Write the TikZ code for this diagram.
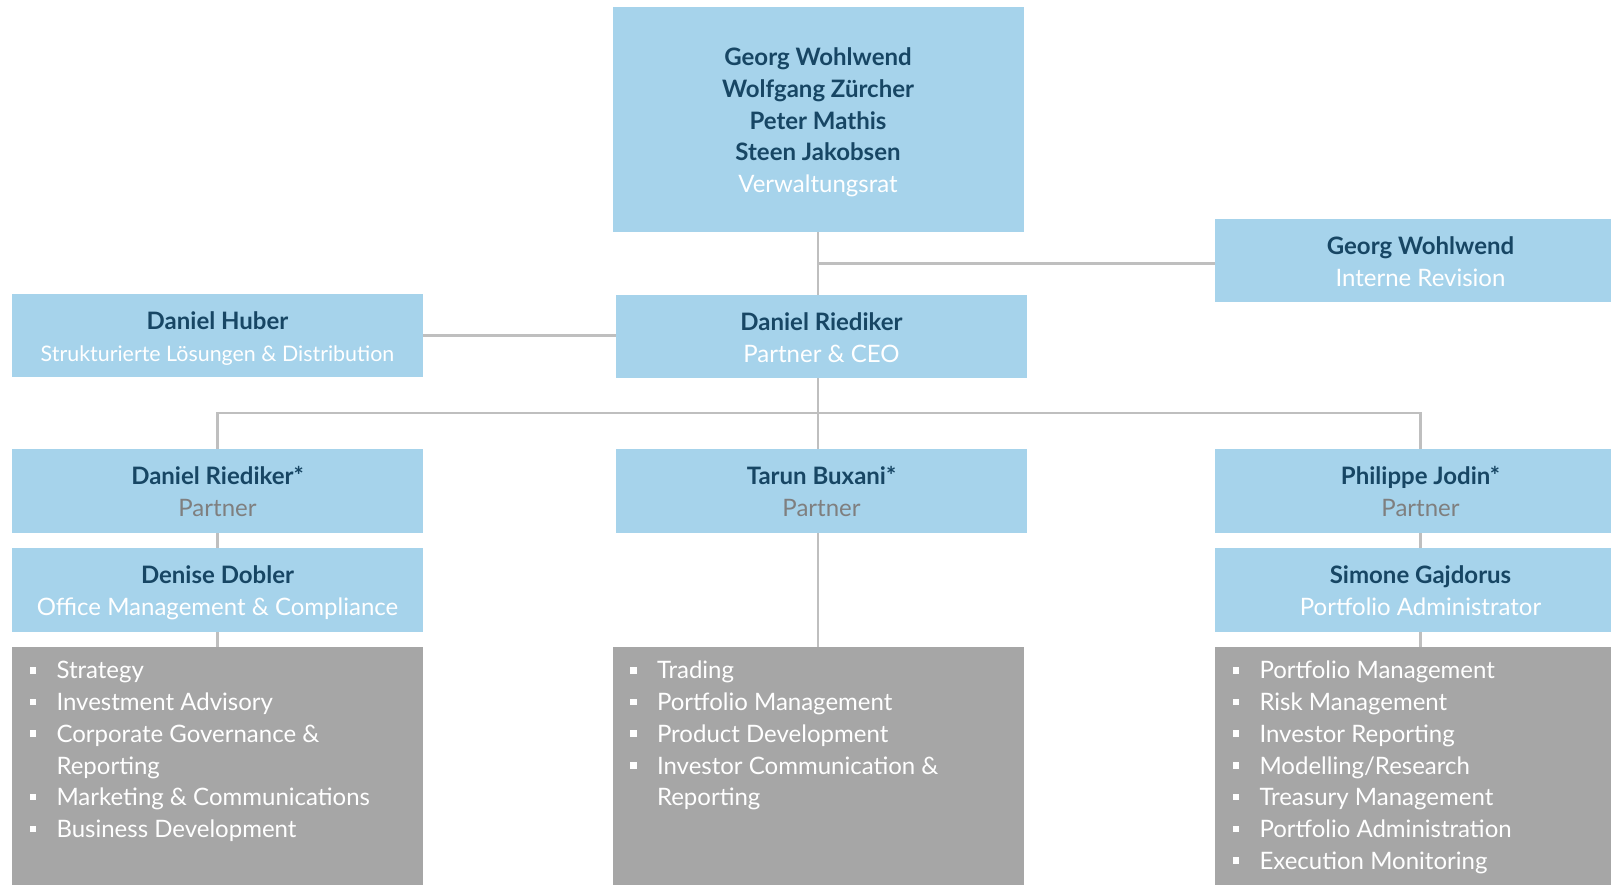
\documentclass[tikz,border=0pt]{standalone}
\usepackage{fontspec}
\setmainfont{Lato}
\usetikzlibrary{backgrounds}

\definecolor{boxblue}{RGB}{166,211,235}
\definecolor{namecol}{RGB}{23,70,100}
\definecolor{boxgray}{RGB}{166,166,166}
\definecolor{linegray}{RGB}{191,191,191}
\definecolor{partnercol}{RGB}{127,127,127}

\newcommand\person[1]{\rule{0pt}{25.5pt}{\bfseries\color{namecol}#1}}
\newcommand\rolename[2][white]{{\color{#1}#2}\rule[-6pt]{0pt}{6pt}}
\newcommand\duty[1]{\rule{0pt}{18pt}\makebox[27pt][l]{\raisebox{5.4pt}{\rule{6.5pt}{6.5pt}}}#1}
\newcommand\dutycont[1]{\hspace*{27pt}#1}

\begin{document}
\begin{tikzpicture}[
        x=1pt, y=-1pt,
        box/.style={fill=boxblue, minimum width=411pt, inner sep=0pt, align=center,
            font=\fontsize{24}{31.7}\selectfont},
        dutybox/.style={fill=boxgray, minimum width=411pt, minimum height=260pt,
            inner sep=0pt, anchor=north},
        duties/.style={anchor=north west, inner sep=0pt, align=left, text=white,
            xshift=17.5pt, yshift=-14pt, font=\fontsize{24}{31.7}\selectfont},
        link/.style={draw=linegray, line width=2.5pt},
    ]
    \useasboundingbox (0,0) rectangle (1611,885);

    % board and CEO
    \node[box, minimum height=224.7pt] (vr) at (818,119.3)
        {\person{Georg Wohlwend}\\ \person{Wolfgang Zürcher}\\ \person{Peter Mathis}\\
         \person{Steen Jakobsen}\\ \rolename{Verwaltungsrat}};
    \node[box, minimum height=83.3pt] (rev) at (1420.5,260.6)
        {\person{Georg Wohlwend}\\ \rolename{Interne Revision}};
    \node[box, minimum height=83pt] (huber) at (217.5,335.5)
        {\person{Daniel Huber}\\ \rolename{\fontsize{21.4}{24}\selectfont Strukturierte Lösungen \& Distribution}};
    \node[box, minimum height=83pt] (ceo) at (821.5,336.5)
        {\person{Daniel Riediker}\\ \rolename{Partner \& CEO}};

    % partners
    \node[box, minimum height=83.7pt] (p1) at (217.5,490.8)
        {\person{Daniel Riediker*}\\ \rolename[partnercol]{Partner}};
    \node[box, minimum height=83.7pt] (p2) at (821.5,490.8)
        {\person{Tarun Buxani*}\\ \rolename[partnercol]{Partner}};
    \node[box, minimum height=83.7pt] (p3) at (1420.5,490.8)
        {\person{Philippe Jodin*}\\ \rolename[partnercol]{Partner}};

    \node[box, minimum height=83.7pt] (d1) at (217.5,589.9)
        {\person{Denise Dobler}\\ \rolename{Office Management \& Compliance}};
    \node[box, minimum height=83.7pt] (d3) at (1420.5,589.9)
        {\person{Simone Gajdorus}\\ \rolename{Portfolio Administrator}};

    % duties
    \node[dutybox] (g1) at (217.5,646.7) {};
    \node[dutybox] (g2) at (818,646.7) {};
    \node[dutybox] (g3) at (1420.5,646.7) {};

    \node[duties] (l1) at (g1.north west)
        {\duty{Strategy}\\ \duty{Investment Advisory}\\ \duty{Corporate Governance \&}\\
         \dutycont{Reporting}\\ \duty{Marketing \& Communications}\\ \duty{Business Development}};
    \node[duties] (l2) at (g2.north west)
        {\duty{Trading}\\ \duty{Portfolio Management}\\ \duty{Product Development}\\
         \duty{Investor Communication \&}\\ \dutycont{Reporting}};
    \node[duties] (l3) at (g3.north west)
        {\duty{Portfolio Management}\\ \duty{Risk Management}\\ \duty{Investor Reporting}\\
         \duty{Modelling/Research}\\ \duty{Treasury Management}\\ \duty{Portfolio Administration}\\
         \duty{Execution Monitoring}};

    \begin{scope}[on background layer]
        \coordinate (revjoin) at (818,263.5);
        \coordinate (bus) at (818,413);
        \draw[link] (vr.south) -- (vr.south |- g2.north);
        \draw[link] (revjoin) -- (revjoin -| rev.west);
        \draw[link] (huber.east) -- (huber.east -| ceo.west);
        \draw[link] (p1.north) |- (bus) -| (p3.north);
        \draw[link] (p1) -- (d1) -- (g1);
        \draw[link] (p3) -- (d3) -- (g3);
    \end{scope}
\end{tikzpicture}
\end{document}
